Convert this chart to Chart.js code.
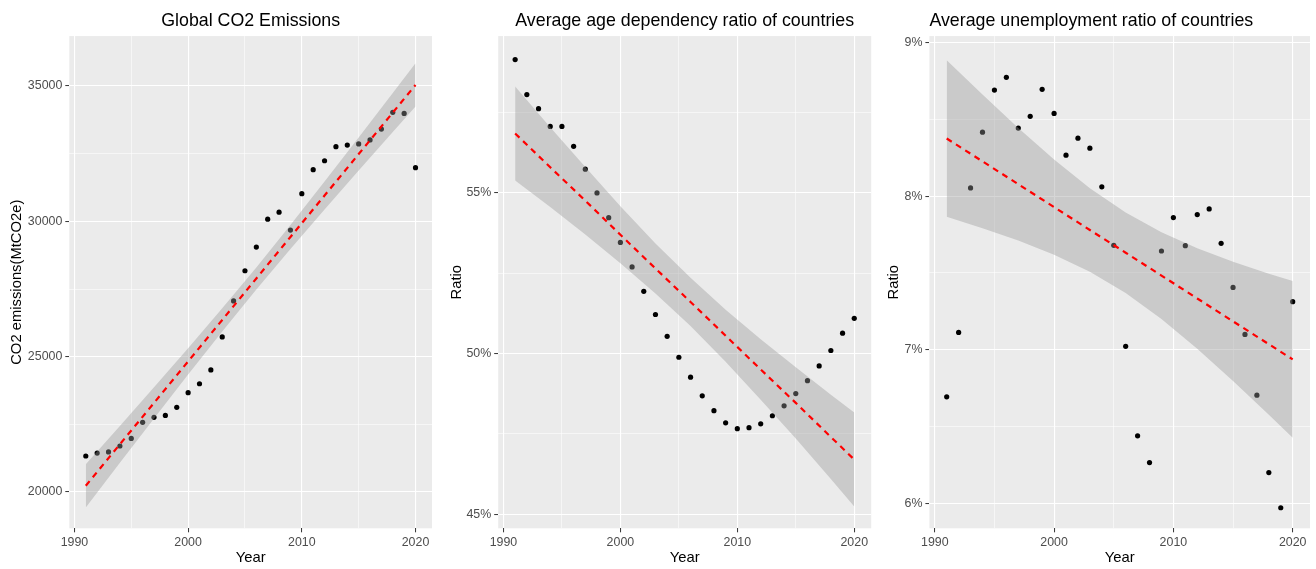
<!DOCTYPE html>
<html>
<head>
<meta charset="utf-8">
<script src="https://cdn.jsdelivr.net/npm/chart.js@4/dist/chart.umd.min.js"></script>
<style>
html,body{margin:0;padding:0;background:#ffffff;width:1316px;height:569px;overflow:hidden}
.p{position:absolute;top:0;height:569px;width:440px}
#p1{left:0}
#p2{left:440px}
#p3{left:876px}
</style>
</head>
<body>
<div class="p" id="p1"><canvas id="c1" width="440" height="569"></canvas></div>
<div class="p" id="p2"><canvas id="c2" width="440" height="569"></canvas></div>
<div class="p" id="p3"><canvas id="c3" width="440" height="569"></canvas></div>
<script>
// ---- data ----
const years = [1991,1992,1993,1994,1995,1996,1997,1998,1999,2000,2001,2002,2003,2004,2005,2006,2007,2008,2009,2010,2011,2012,2013,2014,2015,2016,2017,2018,2019,2020];

const co2Emissions = [21330,21440,21480,21700,21980,22575,22760,22830,23130,23670,24000,24510,25730,27060,28175,29050,30080,30340,29680,31025,31910,32240,32760,32820,32860,33010,33410,34030,33990,31985];

const ageDependencyRatio = [59.14,58.05,57.61,57.06,57.06,56.44,55.73,54.99,54.22,53.45,52.69,51.93,51.21,50.53,49.88,49.26,48.68,48.22,47.84,47.66,47.69,47.81,48.06,48.37,48.75,49.15,49.61,50.09,50.63,51.09];

const unemploymentRatio = [6.693,7.113,8.054,8.417,8.691,8.774,8.444,8.520,8.696,8.539,8.267,8.378,8.313,8.061,7.680,7.022,6.439,6.265,7.643,7.861,7.678,7.880,7.917,7.693,7.406,7.100,6.704,6.200,5.971,7.313];

// smoothing line and confidence band, read at these years
const fitYears = [1991,1994,1997,2000,2003,2006,2009,2012,2015,2018,2020];

const co2Fit   = [20230,21762,23294,24826,26358,27891,29423,30955,32487,34019,35040];
const co2Lower = [19430,21080,22720,24340,25930,27480,28980,30440,31880,33300,34240];
const co2Upper = [21030,22440,23870,25310,26790,28300,29870,31470,33100,34740,35840];

const ageFit   = [56.84,55.79,54.75,53.69,52.64,51.60,50.55,49.50,48.46,47.40,46.70];
const ageLower = [55.38,54.55,53.70,52.80,51.86,50.85,49.74,48.56,47.35,46.09,45.24];
const ageUpper = [58.30,57.03,55.80,54.58,53.42,52.35,51.36,50.44,49.57,48.71,48.16];

const unempFit   = [8.376,8.227,8.078,7.929,7.780,7.632,7.483,7.334,7.185,7.036,6.937];
const unempLower = [7.866,7.792,7.712,7.619,7.508,7.370,7.201,7.007,6.797,6.577,6.427];
const unempUpper = [8.886,8.662,8.444,8.239,8.052,7.894,7.765,7.661,7.573,7.495,7.447];

// ticks
const xTicks = [1990,2000,2010,2020];
const xMinorTicks = [1995,2005,2015];
const co2Ticks = [20000,25000,30000,35000];
const co2MinorTicks = [22500,27500,32500];
const ageTicks = [45,50,55];
const ageMinorTicks = [47.5,52.5,57.5];
const unempTicks = [6,7,8,9];
const unempMinorTicks = [6.5,7.5,8.5];

// ---- rendering ----
const FONT = '"Liberation Sans", Arial, "DejaVu Sans", sans-serif';
Chart.defaults.font.family = FONT;

function pts(xs, ys){ return xs.map((x,i)=>({x:x, y:ys[i]})); }

const panelBg = {
  id:'panelBg',
  beforeDraw(chart){
    const a = chart.chartArea, c = chart.ctx;
    c.save();
    c.fillStyle = '#EBEBEB';
    c.fillRect(a.left, a.top, a.right - a.left, a.bottom - a.top);
    c.restore();
  }
};

function makePanel(canvasId, cfg){
  const majorX = xTicks, allX = xTicks.concat(xMinorTicks).sort((a,b)=>a-b);
  const allY = cfg.yTicks.concat(cfg.yMinor).sort((a,b)=>a-b);
  const isMajor = (list, v) => list.some(t => Math.abs(t - v) < 1e-9);
  new Chart(document.getElementById(canvasId), {
    type:'scatter',
    data:{
      datasets:[
        {label:'fit', data:pts(fitYears, cfg.fit), showLine:true, borderColor:'#FF0000', borderWidth:2.2, borderDash:[6,5], pointRadius:0, fill:false, order:0},
        {label:'upper', data:pts(fitYears, cfg.upper), showLine:true, borderWidth:0, borderColor:'rgba(0,0,0,0)', backgroundColor:'rgba(153,153,153,0.4)', pointRadius:0, fill:'+1', order:1},
        {label:'lower', data:pts(fitYears, cfg.lower), showLine:true, borderWidth:0, borderColor:'rgba(0,0,0,0)', pointRadius:0, fill:false, order:2},
        {label:'points', data:pts(years, cfg.values), pointRadius:2.6, pointBackgroundColor:'#000000', pointBorderWidth:0, showLine:false, order:3}
      ]
    },
    options:{
      responsive:false,
      animation:false,
      events:[],
      layout:{padding:{left:0, right:cfg.padRight, top:0, bottom:0}, autoPadding:false},
      plugins:{
        legend:{display:false},
        tooltip:{enabled:false},
        title:{display:true, text:cfg.title, fullSize:false, align:cfg.titleAlign, color:'#000000',
               font:{size:17.8, weight:'normal'}, padding:{top:10.4, bottom:4.3}}
      },
      scales:{
        x:{
          type:'linear', min:cfg.xMin, max:cfg.xMax,
          afterBuildTicks(s){ s.ticks = allX.map(v=>({value:v})); },
          afterFit(s){ s.height = 40.7; },
          ticks:{autoSkip:false, maxRotation:0, padding:3, color:'#4D4D4D', font:{size:12.4},
                 callback:(v)=> isMajor(majorX, v) ? String(v) : ''},
          grid:{color:'#FFFFFF', lineWidth:(c)=> (c.tick && isMajor(majorX, c.tick.value)) ? 1.1 : 0.55,
                tickColor:(c)=> (c.tick && isMajor(majorX, c.tick.value)) ? '#333333' : 'rgba(0,0,0,0)',
                tickLength:4, tickWidth:1},
          border:{display:false},
          title:{display:true, text:'Year', color:'#000000', font:{size:14.8}, padding:{top:0, bottom:2}}
        },
        y:{
          type:'linear', min:cfg.yMin, max:cfg.yMax,
          afterBuildTicks(s){ s.ticks = allY.map(v=>({value:v})); },
          afterFit(s){ s.width = cfg.yWidth; },
          ticks:{autoSkip:false, padding:3, color:'#4D4D4D', font:{size:12.4},
                 callback:(v)=> isMajor(cfg.yTicks, v) ? cfg.fmt(v) : ''},
          grid:{color:'#FFFFFF', lineWidth:(c)=> (c.tick && isMajor(cfg.yTicks, c.tick.value)) ? 1.1 : 0.55,
                tickColor:(c)=> (c.tick && isMajor(cfg.yTicks, c.tick.value)) ? '#333333' : 'rgba(0,0,0,0)',
                tickLength:4, tickWidth:1},
          border:{display:false},
          title:{display:true, text:cfg.yTitle, color:'#000000', font:{size:14.8}, padding:{top:cfg.yTitlePad, bottom:0}}
        }
      }
    },
    plugins:[panelBg]
  });
}

makePanel('c1', {
  title:'Global CO2 Emissions', titleAlign:'center',
  values:co2Emissions, fit:co2Fit, lower:co2Lower, upper:co2Upper,
  xMin:1989.55, xMax:2021.45, yMin:18659, yMax:36847,
  yTicks:co2Ticks, yMinor:co2MinorTicks, fmt:(v)=>String(v),
  yTitle:'CO2 emissions(MtCO2e)', yTitlePad:8.3, yWidth:69.3, padRight:8
});

makePanel('c2', {
  title:'Average age dependency ratio of countries', titleAlign:'center',
  values:ageDependencyRatio, fit:ageFit, lower:ageLower, upper:ageUpper,
  xMin:1989.55, xMax:2021.45, yMin:44.56, yMax:59.87,
  yTicks:ageTicks, yMinor:ageMinorTicks, fmt:(v)=>v+'%',
  yTitle:'Ratio', yTitlePad:8.1, yWidth:58.2, padRight:8.8
});

makePanel('c3', {
  title:'Average unemployment ratio of countries', titleAlign:'start',
  values:unemploymentRatio, fit:unempFit, lower:unempLower, upper:unempUpper,
  xMin:1989.55, xMax:2021.45, yMin:5.837, yMax:9.043,
  yTicks:unempTicks, yMinor:unempMinorTicks, fmt:(v)=>v+'%',
  yTitle:'Ratio', yTitlePad:9.1, yWidth:53.4, padRight:6
});
</script>
</body>
</html>
